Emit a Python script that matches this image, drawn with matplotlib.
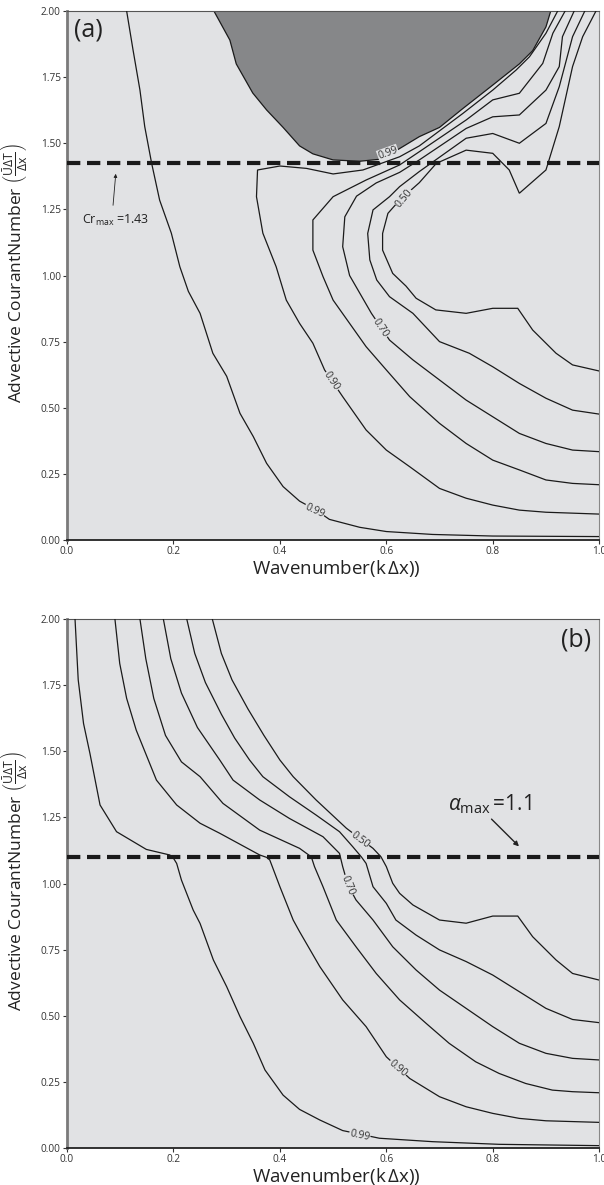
import matplotlib.pyplot as plt

plt.rcParams['font.family'] = ['Open Sans', 'DejaVu Sans']
plt.rcParams['mathtext.fontset'] = 'custom'
plt.rcParams['mathtext.rm'] = 'Open Sans'
plt.rcParams['mathtext.it'] = 'Open Sans:italic'

# ---- panel (a) : contours ----
dark_x = [0.276, 0.306, 0.318, 0.349, 0.375, 0.406, 0.437, 0.462, 0.50, 0.55, 0.59, 0.625, 0.662,
          0.70, 0.743, 0.80, 0.85, 0.875, 0.90, 0.909]
dark_y = [2.0, 1.89, 1.80, 1.69, 1.626, 1.56, 1.49, 1.46, 1.437, 1.432, 1.44, 1.48, 1.525,
          1.56, 1.63, 1.72, 1.80, 1.85, 1.94, 2.0]

a099_x = [0.112, 0.124, 0.137, 0.146, 0.159, 0.174, 0.196, 0.212, 0.228, 0.250, 0.274, 0.300, 0.325,
          0.350, 0.375, 0.406, 0.437, 0.468, 0.493, 0.550, 0.600, 0.687, 0.800, 1.0]
a099_y = [2.0, 1.853, 1.701, 1.563, 1.424, 1.285, 1.16, 1.033, 0.94, 0.857, 0.706, 0.619, 0.479,
          0.391, 0.290, 0.202, 0.147, 0.113, 0.078, 0.048, 0.032, 0.021, 0.015, 0.013]

a090_x = [0.922, 0.900, 0.869, 0.844, 0.800, 0.744, 0.662, 0.625, 0.556, 0.500, 0.450, 0.400, 0.358,
          0.356, 0.368, 0.393, 0.412, 0.437, 0.462, 0.484, 0.518, 0.562, 0.600, 0.644, 0.700, 0.750,
          0.800, 0.850, 0.900, 1.0]
a090_y = [2.0, 1.916, 1.827, 1.777, 1.701, 1.613, 1.49, 1.449, 1.399, 1.384, 1.405, 1.414, 1.399,
          1.298, 1.16, 1.033, 0.907, 0.819, 0.744, 0.643, 0.542, 0.416, 0.340, 0.277, 0.195, 0.158,
          0.132, 0.113, 0.105, 0.098]

a080_x = [0.936, 0.913, 0.894, 0.850, 0.800, 0.750, 0.662, 0.625, 0.562, 0.500, 0.462, 0.462, 0.481,
          0.500, 0.531, 0.562, 0.600, 0.644, 0.700, 0.750, 0.800, 0.850, 0.900, 0.950, 1.0]
a080_y = [2.0, 1.916, 1.802, 1.689, 1.664, 1.588, 1.468, 1.418, 1.361, 1.298, 1.21, 1.096, 0.996,
          0.907, 0.819, 0.731, 0.643, 0.542, 0.441, 0.365, 0.302, 0.265, 0.227, 0.214, 0.209]

a070_x = [0.953, 0.931, 0.925, 0.900, 0.850, 0.800, 0.750, 0.662, 0.625, 0.581, 0.544, 0.522, 0.518,
          0.531, 0.572, 0.606, 0.650, 0.700, 0.750, 0.800, 0.850, 0.900, 0.950, 1.0]
a070_y = [2.0, 1.903, 1.790, 1.701, 1.607, 1.600, 1.556, 1.437, 1.39, 1.35, 1.30, 1.222, 1.109,
          1.0, 0.857, 0.756, 0.681, 0.605, 0.529, 0.466, 0.403, 0.365, 0.340, 0.334]

a060_x = [0.973, 0.950, 0.925, 0.900, 0.850, 0.800, 0.750, 0.662, 0.625, 0.606, 0.575, 0.565, 0.569,
          0.582, 0.606, 0.650, 0.700, 0.756, 0.800, 0.850, 0.900, 0.950, 1.0]
a060_y = [2.0, 1.903, 1.714, 1.575, 1.500, 1.537, 1.519, 1.393, 1.336, 1.298, 1.248, 1.159, 1.059,
          0.983, 0.920, 0.857, 0.750, 0.706, 0.655, 0.592, 0.536, 0.491, 0.476]

a050_x = [0.994, 0.969, 0.950, 0.925, 0.900, 0.850, 0.831, 0.800, 0.750, 0.694, 0.662, 0.625, 0.603,
          0.593, 0.593, 0.612, 0.637, 0.656, 0.693, 0.750, 0.800, 0.847, 0.875, 0.919, 0.950, 1.0]
a050_y = [2.0, 1.903, 1.790, 1.563, 1.399, 1.311, 1.399, 1.462, 1.474, 1.424, 1.351, 1.285, 1.235,
          1.159, 1.096, 1.008, 0.96, 0.914, 0.870, 0.857, 0.876, 0.876, 0.794, 0.706, 0.662, 0.639]

a_lab_txt = ['0.99', '0.50', '0.70', '0.90', '0.99']
a_lab_x = [0.603, 0.634, 0.589, 0.497, 0.465]
a_lab_y = [1.463, 1.292, 0.80, 0.600, 0.110]
a_lab_rot = [20, 50, -56, -56, -25]

# ---- panel (b) ----
b099_x = [0.015, 0.021, 0.031, 0.043, 0.062, 0.093, 0.149, 0.193, 0.199, 0.206, 0.215, 0.237, 0.250,
          0.275, 0.300, 0.325, 0.350, 0.372, 0.406, 0.437, 0.475, 0.518, 0.587, 0.687, 0.812, 1.0]
b099_y = [2.0, 1.77, 1.605, 1.492, 1.297, 1.196, 1.129, 1.108, 1.099, 1.076, 1.013, 0.900, 0.849,
          0.711, 0.610, 0.497, 0.396, 0.295, 0.200, 0.146, 0.106, 0.066, 0.037, 0.024, 0.014, 0.009]

b090_x = [0.090, 0.099, 0.112, 0.130, 0.168, 0.206, 0.250, 0.287, 0.362, 0.375, 0.381, 0.400, 0.425,
          0.437, 0.475, 0.518, 0.562, 0.600, 0.644, 0.700, 0.750, 0.800, 0.850, 0.900, 1.0]
b090_y = [2.0, 1.832, 1.70, 1.58, 1.391, 1.297, 1.228, 1.19, 1.108, 1.099, 1.089, 0.988, 0.862,
          0.818, 0.686, 0.560, 0.459, 0.345, 0.263, 0.194, 0.156, 0.131, 0.112, 0.103, 0.097]

b080_x = [0.137, 0.148, 0.163, 0.185, 0.215, 0.250, 0.293, 0.362, 0.437, 0.459, 0.465, 0.481, 0.506,
          0.543, 0.581, 0.625, 0.675, 0.718, 0.768, 0.812, 0.862, 0.912, 0.950, 1.0]
b080_y = [2.0, 1.85, 1.70, 1.56, 1.46, 1.404, 1.303, 1.202, 1.133, 1.101, 1.064, 0.988, 0.862,
          0.761, 0.660, 0.560, 0.471, 0.396, 0.326, 0.282, 0.244, 0.219, 0.213, 0.209]

b070_x = [0.181, 0.195, 0.215, 0.245, 0.287, 0.312, 0.362, 0.418, 0.481, 0.512, 0.518, 0.528, 0.543,
          0.575, 0.612, 0.656, 0.700, 0.750, 0.800, 0.850, 0.900, 0.950, 1.0]
b070_y = [2.0, 1.85, 1.72, 1.59, 1.467, 1.391, 1.316, 1.246, 1.177, 1.114, 1.064, 0.994, 0.938,
          0.862, 0.761, 0.673, 0.597, 0.528, 0.459, 0.396, 0.358, 0.339, 0.333]

b060_x = [0.225, 0.240, 0.260, 0.290, 0.315, 0.343, 0.368, 0.418, 0.468, 0.512, 0.537, 0.553, 0.562,
          0.575, 0.600, 0.618, 0.656, 0.700, 0.750, 0.800, 0.850, 0.900, 0.950, 1.0]
b060_y = [2.0, 1.87, 1.76, 1.64, 1.55, 1.467, 1.404, 1.328, 1.259, 1.196, 1.139, 1.101, 1.076,
          0.988, 0.925, 0.862, 0.805, 0.749, 0.705, 0.654, 0.591, 0.528, 0.486, 0.474]

b050_x = [0.273, 0.290, 0.310, 0.340, 0.370, 0.400, 0.425, 0.468, 0.525, 0.575, 0.590, 0.600, 0.612,
          0.625, 0.650, 0.700, 0.750, 0.800, 0.847, 0.875, 0.919, 0.950, 1.0]
b050_y = [2.0, 1.87, 1.77, 1.66, 1.56, 1.467, 1.404, 1.316, 1.209, 1.133, 1.101, 1.064, 1.001,
          0.963, 0.919, 0.862, 0.850, 0.877, 0.877, 0.799, 0.711, 0.660, 0.635]

b_lab_txt = ['0.50', '0.70', '0.90', '0.99']
b_lab_x = [0.550, 0.528, 0.621, 0.550]
b_lab_y = [1.164, 0.994, 0.300, 0.048]
b_lab_rot = [-37, -68, -40, -12]

cr_max = 1.425
alpha_max = 1.1

bg = '#e1e2e4'
ytick_vals = [0.0, 0.25, 0.5, 0.75, 1.0, 1.25, 1.5, 1.75, 2.0]
xtick_vals = [0.0, 0.2, 0.4, 0.6, 0.8, 1.0]

fig = plt.figure(figsize=(6.04, 11.85), dpi=100)
ax_a = fig.add_axes([0.111, 0.5443, 0.881, 0.4464])
ax_b = fig.add_axes([0.111, 0.0312, 0.881, 0.4464])


def style_axes(ax):
    ax.set_facecolor(bg)
    ax.set_xlim(0, 1)
    ax.set_ylim(0, 2)
    ax.set_yticks(ytick_vals)
    ax.set_yticklabels(['%.2f' % v for v in ytick_vals])
    ax.set_xticks(xtick_vals)
    ax.set_xticklabels(['%.1f' % v for v in xtick_vals])
    ax.tick_params(direction='out', length=3, width=0.8, labelsize=7.3, colors='#333333', pad=1.5)
    ax.spines['left'].set_color('#7a7a7a')
    ax.spines['left'].set_linewidth(2.0)
    ax.spines['bottom'].set_color('#222222')
    ax.spines['bottom'].set_linewidth(1.3)
    ax.spines['top'].set_color('#555555')
    ax.spines['top'].set_linewidth(0.8)
    ax.spines['right'].set_color('#888888')
    ax.spines['right'].set_linewidth(0.8)
    ax.set_ylabel(r'Advective CourantNumber $\left(\frac{\bar{\mathrm{U}}\Delta\mathrm{T}}{\Delta\mathrm{x}}\right)$',
                  fontsize=12.5, color='#222222')
    ax.yaxis.set_label_coords(-0.072, 0.505)
    ax.set_xlabel(r'Wavenumber(k$\,\Delta$x))', fontsize=13.5, color='#222222')
    ax.xaxis.set_label_coords(0.507, -0.034)


def draw_lines(ax, lines):
    for xs, ys in lines:
        ax.plot(xs, ys, color='#1a1a1a', lw=0.9, solid_joinstyle='miter', zorder=3)


def draw_labels(ax, txt, xs, ys, rots):
    for t, x, y, r in zip(txt, xs, ys, rots):
        ax.text(x, y, t, fontsize=7.5, color='#333333', rotation=r, rotation_mode='anchor',
                ha='center', va='center', zorder=5,
                bbox=dict(facecolor=bg, edgecolor='none', pad=0.4))


# ---- (a) ----
style_axes(ax_a)
ax_a.fill(dark_x, dark_y, facecolor='#868789', edgecolor='#1a1a1a', lw=0.9, zorder=2)
draw_lines(ax_a, [(a099_x, a099_y), (a090_x, a090_y), (a080_x, a080_y),
                  (a070_x, a070_y), (a060_x, a060_y), (a050_x, a050_y)])
ax_a.axhline(cr_max, color='#1a1a1a', lw=3, dashes=(3.2, 1.6), zorder=4)
draw_labels(ax_a, a_lab_txt, a_lab_x, a_lab_y, a_lab_rot)
ax_a.annotate('', xy=(0.092, cr_max - 0.03), xytext=(0.086, 1.255),
              arrowprops=dict(arrowstyle='-|>', lw=0.6, color='#222222', mutation_scale=5), zorder=6)
ax_a.text(0.028, 1.21, r'Cr$_{\mathregular{max}}$ =1.43', fontsize=9, color='#222222',
          ha='left', va='center')
ax_a.text(0.014, 0.965, '(a)', transform=ax_a.transAxes, fontsize=18, color='#222222',
          ha='left', va='center')

# ---- (b) ----
style_axes(ax_b)
draw_lines(ax_b, [(b099_x, b099_y), (b090_x, b090_y), (b080_x, b080_y),
                  (b070_x, b070_y), (b060_x, b060_y), (b050_x, b050_y)])
ax_b.axhline(alpha_max, color='#1a1a1a', lw=3, dashes=(3.2, 1.6), zorder=4)
draw_labels(ax_b, b_lab_txt, b_lab_x, b_lab_y, b_lab_rot)
ax_b.annotate('', xy=(0.853, 1.133), xytext=(0.794, 1.251),
              arrowprops=dict(arrowstyle='-|>', lw=1.0, color='#222222', mutation_scale=7), zorder=6)
ax_b.text(0.715, 1.30, r'$\alpha_{\mathregular{max}}$$\,$=1.1', fontsize=15, color='#222222',
          ha='left', va='center')
ax_b.text(0.985, 0.96, '(b)', transform=ax_b.transAxes, fontsize=18, color='#222222',
          ha='right', va='center')

fig.savefig('out.png', dpi=100)
